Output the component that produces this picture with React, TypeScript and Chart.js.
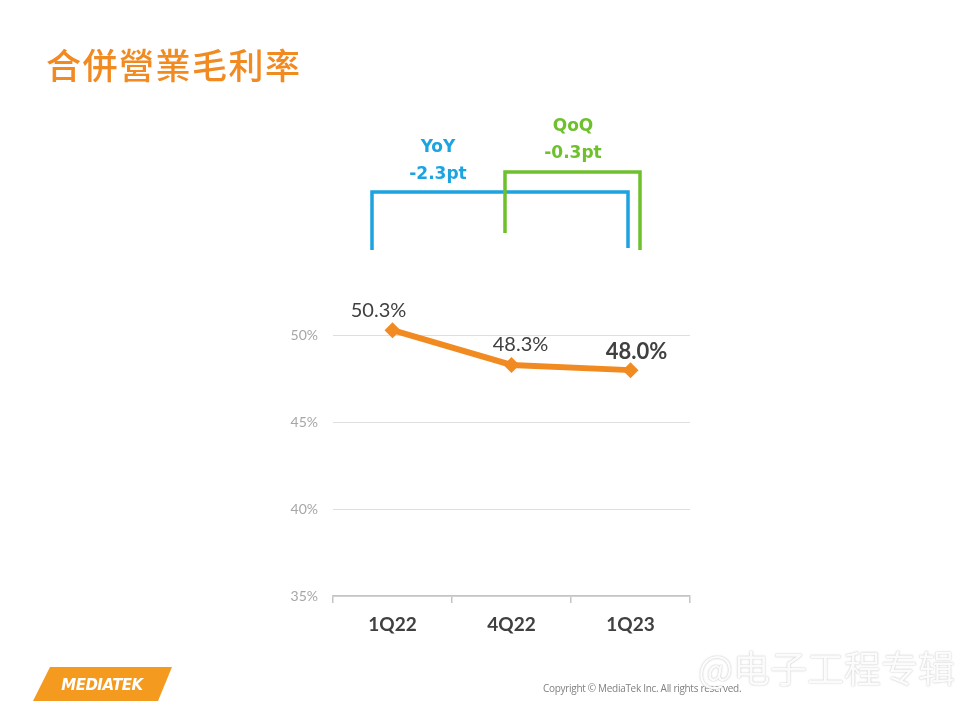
import { useRef, useEffect } from 'react';
import { Chart, registerables, type Plugin } from 'chart.js';

Chart.register(...registerables);

const categories = ['1Q22', '4Q22', '1Q23'];
const grossMargin = [50.3, 48.3, 48.0];
const yTicks = [35, 40, 45, 50];
// the last quarter is emphasised in bold
const boldLabel = [false, false, true];
const labelShift = [
  [-14, -20],
  [9, -20],
  [6, -18],
];

const ORANGE = '#F28A22';
const BLUE = '#1CA3E0';
const GREEN = '#6EC12C';

const App = () => {
  const chartRef = useRef<HTMLCanvasElement | null>(null);
  const chartInstance = useRef<Chart<'line'> | null>(null);

  useEffect(() => {
    if (!chartRef.current) return;

    const valueLabels: Plugin<'line'> = {
      id: 'valueLabels',
      afterDatasetsDraw: (chart) => {
        const { ctx } = chart;
        const meta = chart.getDatasetMeta(0);
        ctx.save();
        ctx.textAlign = 'center';
        ctx.textBaseline = 'middle';
        ctx.fillStyle = '#404040';
        meta.data.forEach((pt, i) => {
          ctx.font = boldLabel[i] ? 'bold 22px Lato' : '20px Lato';
          ctx.fillText(
            grossMargin[i].toFixed(1) + '%',
            pt.x + labelShift[i][0],
            pt.y + labelShift[i][1]
          );
        });
        ctx.restore();
      },
    };

    if (chartInstance.current) {
      chartInstance.current.destroy();
    }

    chartInstance.current = new Chart(chartRef.current, {
      type: 'line',
      data: {
        labels: categories,
        datasets: [
          {
            data: grossMargin,
            borderColor: ORANGE,
            backgroundColor: ORANGE,
            borderWidth: 6,
            pointStyle: 'rectRot',
            pointRadius: 8,
            pointBorderWidth: 0,
            pointBackgroundColor: ORANGE,
            tension: 0,
            clip: false,
          },
        ],
      },
      options: {
        responsive: false,
        animation: false,
        layout: { padding: { left: 0, right: 280, top: 318, bottom: 0 } },
        plugins: {
          legend: { display: false },
          tooltip: { enabled: false },
        },
        scales: {
          x: {
            offset: true,
            afterFit: (scale) => {
              scale.height = 128;
            },
            grid: {
              offset: true,
              drawOnChartArea: false,
              drawTicks: true,
              tickLength: 7,
              color: '#c4c4c4',
              lineWidth: 1.5,
            },
            border: { color: '#c4c4c4', width: 1.5 },
            ticks: {
              color: '#404040',
              padding: 10,
              font: { family: 'Lato', size: 19, weight: 'bold' },
            },
          },
          y: {
            min: 35,
            max: 51,
            afterFit: (scale) => {
              scale.width = 333;
            },
            afterBuildTicks: (scale) => {
              scale.ticks = yTicks.map((v) => ({ value: v }));
            },
            grid: { color: '#dedede', drawTicks: false, lineWidth: 1 },
            border: { display: false },
            ticks: {
              color: '#a6a6a6',
              padding: 15,
              font: { family: 'Lato', size: 14 },
              callback: (v) => v + '%',
            },
          },
        },
      },
      plugins: [valueLabels],
    });

    return () => {
      chartInstance.current?.destroy();
    };
  }, []);

  return (
    <div
      style={{
        position: 'fixed',
        left: 0,
        top: 0,
        width: 970,
        height: 724,
        background: '#ffffff',
        overflow: 'hidden',
      }}
    >
      <canvas
        ref={chartRef}
        width={970}
        height={724}
        style={{ position: 'absolute', left: 0, top: 0, width: 970, height: 724 }}
      />
      <div
        style={{
          position: 'absolute',
          left: 46,
          top: 41,
          fontFamily: '"Noto Sans CJK TC"',
          fontSize: 35,
          fontWeight: 500,
          letterSpacing: 1.5,
          color: ORANGE,
          lineHeight: '46px',
        }}
      >
        合併營業毛利率
      </div>

      <svg
        width={970}
        height={300}
        style={{ position: 'absolute', left: 0, top: 0 }}
      >
        <polyline
          points="372,250 372,192 628,192 628,248"
          fill="none"
          stroke={BLUE}
          strokeWidth={3.5}
        />
        <polyline
          points="505,233 505,172 640,172 640,250"
          fill="none"
          stroke={GREEN}
          strokeWidth={3.5}
        />
        <g
          fontFamily="DejaVu Sans"
          fontWeight="bold"
          fontSize={17}
          textAnchor="middle"
        >
          <text x={438} y={152} fill={BLUE}>YoY</text>
          <text x={438} y={179} fill={BLUE}>-2.3pt</text>
          <text x={573} y={131} fill={GREEN}>QoQ</text>
          <text x={573} y={158} fill={GREEN}>-0.3pt</text>
        </g>
      </svg>

      <svg
        width={200}
        height={50}
        style={{ position: 'absolute', left: 20, top: 660 }}
      >
        <polygon points="30,7 152,7 138,41 13,41" fill="#F39A1F" />
        <text
          x={82}
          y={30}
          textAnchor="middle"
          fill="#ffffff"
          fontFamily="DejaVu Sans"
          fontWeight="bold"
          fontStyle="italic"
          fontSize={15}
          letterSpacing={-0.5}
        >
          MEDIATEK
        </text>
      </svg>

      <div
        style={{
          position: 'absolute',
          left: 543,
          top: 681,
          fontFamily: '"Open Sans"',
          fontSize: 10,
          color: '#808080',
          letterSpacing: -0.3,
          whiteSpace: 'nowrap',
        }}
      >
        Copyright © MediaTek Inc. All rights reserved.
      </div>

      <div
        style={{
          position: 'absolute',
          left: 698,
          top: 642,
          fontFamily: '"Noto Sans CJK SC"',
          fontSize: 37,
          color: 'rgba(255,255,255,0.95)',
          textShadow: '0 0 2px rgba(150,150,150,0.45), 0 0 1px rgba(150,150,150,0.45)',
          whiteSpace: 'nowrap',
          lineHeight: '50px',
        }}
      >
        @电子工程专辑
      </div>
    </div>
  );
};

export default App;
